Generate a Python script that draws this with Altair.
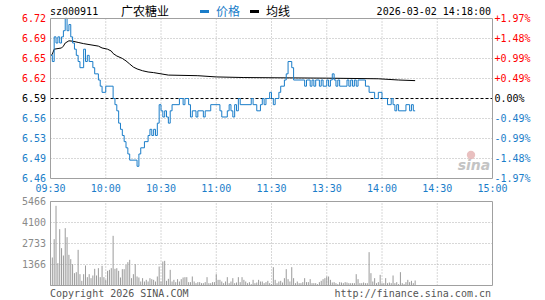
import altair as alt
import pandas as pd

# ---------------- data ----------------
time_labels = ["09:30", "10:00", "10:30", "11:00", "11:30", "13:30", "14:00", "14:30", "15:00"]
time_minutes = [0, 30, 60, 90, 120, 150, 180, 210, 240]
price_labels = ["6.72", "6.69", "6.65", "6.62", "6.59", "6.56", "6.53", "6.49", "6.46"]
pct_labels = ["+1.97%", "+1.48%", "+0.99%", "+0.49%", "0.00%", "-0.49%", "-0.99%", "-1.48%", "-1.97%"]
vol_labels = ["5466", "4100", "2733", "1366"]
pre_close = 6.59
price_top = 6.7198
price_bottom = 6.4602
vol_max = 5466

price_minute = [0, 1, 2, 3, 4, 5, 6, 7, 8, 9, 10, 11, 12, 13, 14, 15, 16, 18, 19, 20, 21, 23, 24, 26, 27, 28,
                30, 34, 35, 36, 37, 38, 39, 40, 41, 42, 43, 47, 48, 49, 51, 53, 54, 55, 56, 57, 58, 59, 60, 61,
                62, 63, 64, 65, 66, 70, 72, 73, 75, 76, 77, 79, 80, 83, 84, 87, 92, 93, 96, 97, 98, 99, 100,
                101, 102, 103, 109, 110, 112, 114, 115, 116, 117, 119, 120, 121, 122, 124, 125, 127, 128, 129,
                131, 132, 138, 139, 141, 142, 143, 144, 146, 147, 148, 150, 151, 152, 153, 154, 155, 156, 157,
                161, 162, 163, 164, 165, 166, 167, 171, 173, 176, 178, 180, 183, 185, 186, 187, 188, 189, 193,
                195, 196, 197, 198]
price_value = [6.66, 6.65, 6.69, 6.68, 6.69, 6.68, 6.69, 6.70, 6.72, 6.70, 6.71, 6.69, 6.68, 6.67, 6.66, 6.65,
               6.64, 6.67, 6.65, 6.66, 6.65, 6.64, 6.63, 6.62, 6.61, 6.60,
               6.61, 6.59, 6.58, 6.57, 6.55, 6.54, 6.53, 6.52, 6.51, 6.50, 6.49, 6.48, 6.50, 6.51, 6.52, 6.53,
               6.54, 6.53, 6.54, 6.53, 6.55, 6.58, 6.57, 6.56,
               6.57, 6.56, 6.55, 6.57, 6.58, 6.59, 6.58, 6.59, 6.58, 6.56, 6.57, 6.56, 6.57, 6.56, 6.57, 6.58,
               6.57, 6.56, 6.57, 6.58, 6.57, 6.56, 6.58,
               6.57, 6.59, 6.58, 6.59, 6.58, 6.57, 6.58, 6.59, 6.58, 6.59, 6.60, 6.59, 6.58, 6.59, 6.60, 6.61,
               6.62, 6.63, 6.65,
               6.64, 6.62, 6.61, 6.62, 6.61, 6.62, 6.61, 6.62, 6.61, 6.62, 6.61, 6.62, 6.61, 6.62, 6.63, 6.62,
               6.61, 6.62, 6.61,
               6.62, 6.61, 6.62, 6.61, 6.62, 6.61, 6.62, 6.61, 6.60, 6.59, 6.60, 6.59, 6.58, 6.59, 6.58, 6.57,
               6.58, 6.57, 6.58,
               6.57, 6.58, 6.57, 6.57]

avg_minute = [0, 1, 2, 6, 7, 8, 10, 12, 15, 18, 22, 26, 28, 31, 33, 34, 36, 39, 41, 43, 45, 47, 50, 53, 56,
              60, 64, 80, 90, 105, 150, 178, 189, 198]
avg_value = [6.659, 6.662, 6.670, 6.672, 6.675, 6.680, 6.6836, 6.683, 6.681, 6.679, 6.677, 6.675, 6.672,
             6.670, 6.667, 6.663, 6.659, 6.655, 6.651, 6.646, 6.641, 6.638, 6.635, 6.633, 6.632,
             6.630, 6.628, 6.627, 6.625, 6.624, 6.623, 6.622, 6.620, 6.619]

volume = [5466, 1822, 3015, 5184, 1453, 3666, 2429, 1952, 3731, 3145,
          1996, 1714, 1388, 803, 868, 2321, 737, 304, 737, 1301,
          542, 737, 477, 651, 1085, 651, 1128, 542, 1280, 542,
          369, 954, 1019, 1128, 3232, 1085, 1128, 954, 521, 1063,
          1063, 1345, 1518, 1670, 477, 737, 1388, 586, 521, 260,
          477, 260, 369, 260, 477, 412, 369, 260, 586, 1236,
          260, 1562, 1605, 304, 434, 1019, 260, 369, 217, 412,
          260, 412, 521, 542, 542, 217, 217, 586, 260, 152,
          217, 217, 152, 152, 217, 542, 152, 152, 217, 217,
          737, 369, 369, 260, 152, 260, 542, 152, 260, 477,
          152, 195, 542, 217, 542, 369, 260, 152, 217, 87,
          369, 152, 195, 369, 260, 260, 152, 217, 304, 152,
          87, 1193, 369, 152, 260, 304, 195, 477, 1063, 412,
          260, 1193, 477, 152, 260, 152, 152, 217, 477, 217,
          217, 412, 152, 152, 152, 87, 217, 304, 412, 477,
          586, 586, 369, 195, 217, 152, 87, 217, 195, 152,
          217, 195, 152, 152, 152, 152, 737, 412, 152, 152,
          195, 152, 152, 2169, 803, 260, 477, 152, 217, 694,
          152, 152, 477, 152, 195, 152, 651, 152, 217, 87,
          868, 152, 87, 217, 369, 217, 304, 152, 325]

# ---------------- styling ----------------
MONO = "DejaVu Sans Mono"
CJK = "Noto Sans CJK SC"
RED = "#ff0000"
BLUE = "#1a7dc9"
GRID = "#b0b0b0"
BORDER = "#a0a0a0"
VOLC = "#9a9a9a"
X0, X1 = 50.5, 492.5
MAIN_TOP, MAIN_BOT = 18.5, 178.5
VOL_TOP, VOL_BOT = 201.5, 285.5

xs = alt.Scale(domain=[0, 240], range=[X0, X1], nice=False, zero=False)
ysp = alt.Scale(domain=[price_bottom, price_top], range=[MAIN_BOT, MAIN_TOP], nice=False, zero=False)
ysv = alt.Scale(domain=[0, vol_max], range=[VOL_BOT, VOL_TOP], nice=False, zero=False)

step = (price_top - price_bottom) / 8
levels = [price_top - k * step for k in range(9)]

def X(field):
    return alt.X(field, type="quantitative", scale=xs, axis=None)

def YP(field):
    return alt.Y(field, type="quantitative", scale=ysp, axis=None)

def YV(field):
    return alt.Y(field, type="quantitative", scale=ysv, axis=None)

# ---------------- main panel ----------------
lvl_df = pd.DataFrame({"level": levels, "label": price_labels, "pct": pct_labels})
grid_df = lvl_df[(lvl_df.index > 0) & (lvl_df.index < 8) & (lvl_df.index != 4)]
vgrid_df = pd.DataFrame({"minute": time_minutes[1:-1]})

grid_h = alt.Chart(grid_df).mark_rule(color=GRID, strokeDash=[1, 2], strokeWidth=1).encode(
    x=alt.datum(0, scale=xs, axis=None), x2=alt.datum(240), y=YP("level"))
grid_v = alt.Chart(vgrid_df).mark_rule(color=GRID, strokeDash=[1, 2], strokeWidth=1).encode(
    x=X("minute"), y=alt.datum(price_bottom, scale=ysp, axis=None), y2=alt.datum(price_top))
pre_rule = alt.Chart(pd.DataFrame({"p": [pre_close]})).mark_rule(
    color="#000000", strokeDash=[3, 2], strokeWidth=1).encode(
    x=alt.datum(0, scale=xs, axis=None), x2=alt.datum(240), y=YP("p"))
border_main = alt.Chart(pd.DataFrame({"a": [0]})).mark_rect(
    fillOpacity=0, stroke=BORDER, strokeWidth=1).encode(
    x=alt.datum(0, scale=xs, axis=None), x2=alt.datum(240),
    y=alt.datum(price_bottom, scale=ysp, axis=None), y2=alt.datum(price_top))

avg_df = pd.DataFrame({"minute": avg_minute, "v": avg_value})
avg_line = alt.Chart(avg_df).mark_line(color="#000000", strokeWidth=1).encode(x=X("minute"), y=YP("v"))
price_df = pd.DataFrame({"minute": price_minute, "v": price_value})
price_line = alt.Chart(price_df).mark_line(color=BLUE, strokeWidth=1, interpolate="step-after").encode(
    x=X("minute"), y=YP("v"))

color_expr = ("datum.level > %f ? '%s' : (datum.level < %f ? '%s' : '#000000')"
              % (pre_close + 0.0005, RED, pre_close - 0.0005, BLUE))
left_lbl = alt.Chart(lvl_df).transform_calculate(col=color_expr).mark_text(
    font=MONO, fontSize=10, align="right", baseline="middle").encode(
    x=alt.value(46), y=YP("level"), text="label:N", color=alt.Color("col:N", scale=None))
right_lbl = alt.Chart(lvl_df).transform_calculate(col=color_expr).mark_text(
    font=MONO, fontSize=10, align="left", baseline="middle").encode(
    x=alt.value(494.5), y=YP("level"), text="pct:N", color=alt.Color("col:N", scale=None))

main = alt.layer(grid_h, grid_v, pre_rule, avg_line, price_line, border_main, left_lbl, right_lbl)

# ---------------- volume panel ----------------
vol_df = pd.DataFrame({"minute": list(range(len(volume))), "vol": volume})
vgrid_levels = pd.DataFrame({"v": [vol_max * k / 4 for k in (1, 2, 3)]})
vlbl_df = pd.DataFrame({"v": [vol_max * (4 - k) / 4 for k in range(4)], "label": vol_labels})

vgrid_h = alt.Chart(vgrid_levels).mark_rule(color=GRID, strokeDash=[1, 2], strokeWidth=1).encode(
    x=alt.datum(0, scale=xs, axis=None), x2=alt.datum(240), y=YV("v"))
vgrid_v = alt.Chart(vgrid_df).mark_rule(color=GRID, strokeDash=[1, 2], strokeWidth=1).encode(
    x=X("minute"), y=alt.datum(0, scale=ysv, axis=None), y2=alt.datum(vol_max))
bars = alt.Chart(vol_df).mark_rule(color=VOLC, strokeWidth=1).encode(
    x=X("minute"), y=YV("vol"), y2=alt.datum(0))
border_vol = alt.Chart(pd.DataFrame({"a": [0]})).mark_rect(
    fillOpacity=0, stroke=BORDER, strokeWidth=1).encode(
    x=alt.datum(0, scale=xs, axis=None), x2=alt.datum(240),
    y=alt.datum(0, scale=ysv, axis=None), y2=alt.datum(vol_max))
vol_lbl = alt.Chart(vlbl_df).mark_text(font=MONO, fontSize=10, align="right", baseline="middle",
                                        color="#8a8a8a").encode(
    x=alt.value(46), y=YV("v"), text="label:N")

vol = alt.layer(vgrid_h, vgrid_v, bars, border_vol, vol_lbl)

# ---------------- decorations / texts ----------------
time_df = pd.DataFrame({"minute": time_minutes, "label": time_labels})
time_lbl = alt.Chart(time_df).mark_text(font=MONO, fontSize=10, align="center", baseline="middle",
                                         color=BLUE).encode(
    x=X("minute"), y=alt.value(188.5), text="label:N")

def txt(s, x, y, align="left", font=MONO, size=10, color="#000000", **kw):
    return alt.Chart(pd.DataFrame({"t": [s]})).mark_text(
        font=font, fontSize=size, align=align, baseline="middle", color=color, **kw).encode(
        x=alt.value(x), y=alt.value(y), text="t:N")

def dash(x1, x2, y, color):
    return alt.Chart(pd.DataFrame({"a": [0]})).mark_rule(color=color, strokeWidth=3).encode(
        x=alt.value(x1), x2=alt.value(x2), y=alt.value(y))

header = alt.layer(
    txt("sz000911", 50, 11.5),
    txt("广农糖业", 121, 11.5, font=CJK, size=12),
    dash(200, 209, 11.5, BLUE),
    txt("价格", 216, 11.5, font=CJK, size=12, color=BLUE),
    dash(250, 259, 11.5, "#000000"),
    txt("均线", 266, 11.5, font=CJK, size=12),
    txt("2026-03-02 14:18:00", 491, 11.5, align="right"),
    txt("Copyright 2026 SINA.COM", 50, 293.5, color="#555555"),
    txt("http://finance.sina.com.cn", 491, 293.5, align="right", color="#555555"),
    txt("sina", 474, 166, align="center", font="DejaVu Sans", size=14, color="#c4c4c4",
        fontStyle="italic", fontWeight="bold"),
    alt.Chart(pd.DataFrame({"a": [0]})).mark_point(filled=True, color="#e3b0b0", size=70, opacity=0.8).encode(
        x=alt.value(471), y=alt.value(155)),
)

chart = alt.layer(main, vol, time_lbl, header).resolve_scale(y="independent").properties(
    width=545, height=300, padding=0, autosize=alt.AutoSizeParams(type="none"),
    background="#ffffff",
).configure_view(stroke="transparent")

chart.save("out.html", embed_options={"renderer": "svg", "actions": False})
